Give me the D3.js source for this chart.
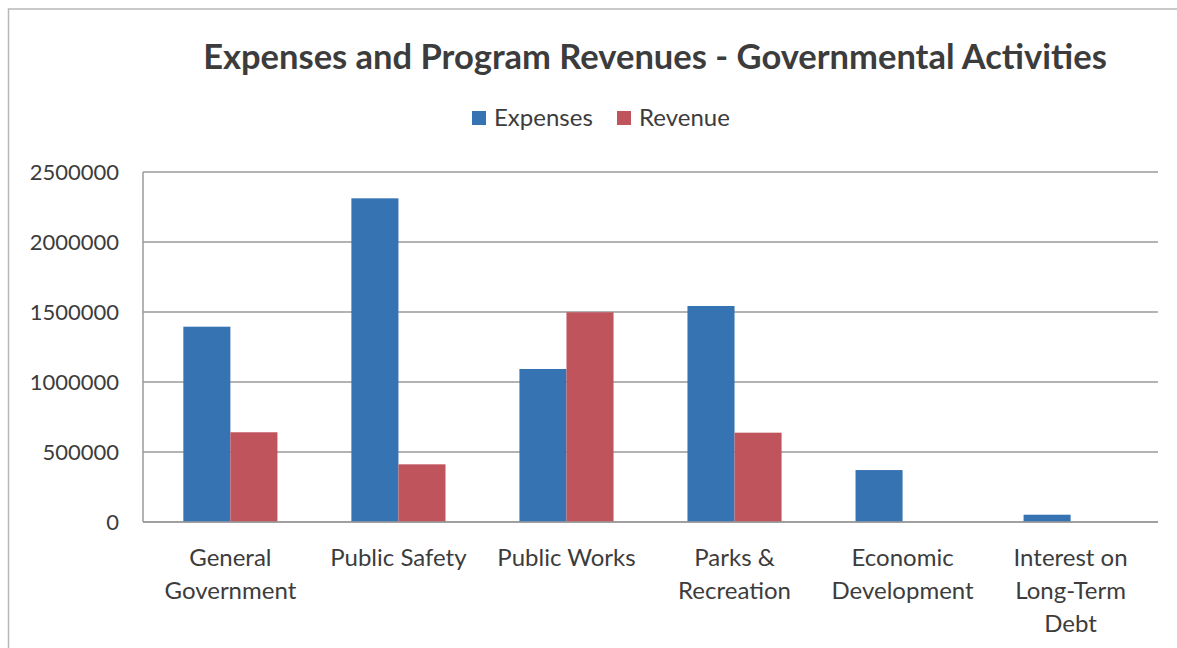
<!DOCTYPE html>
<html>
<head>
<meta charset="utf-8">
<script src="https://cdn.jsdelivr.net/npm/d3@7.9.0/dist/d3.min.js"></script>
<style>
  html, body { margin: 0; padding: 0; background: #fff; }
  svg text { font-family: Lato, "Open Sans", sans-serif; fill: #3c3c3c; }
</style>
</head>
<body>
<svg id="chart" width="1177" height="648"></svg>
<script>
// chart data
const categories = [
  ['General', 'Government'],
  ['Public Safety'],
  ['Public Works'],
  ['Parks &', 'Recreation'],
  ['Economic', 'Development'],
  ['Interest on', 'Long-Term', 'Debt']
];
const expenses = [1395000, 2312000, 1093000, 1543000, 371000, 52000];
const revenue = [641000, 412000, 1498000, 638000, 0, 0];
const seriesNames = ['Expenses', 'Revenue'];
const yTicks = [0, 500000, 1000000, 1500000, 2000000, 2500000];

const colors = ['#3673b3', '#c0545c'];

const svg = d3.select('#chart');
const plot = { left: 143, right: 1158, top: 172, bottom: 522 };

// outer frame (right and bottom edges fall outside the picture)
svg.append('rect')
  .attr('x', 8.5).attr('y', 9)
  .attr('width', 1190).attr('height', 660)
  .attr('fill', 'none')
  .attr('stroke', '#b8b8b8')
  .attr('stroke-width', 1.5);

const x = d3.scaleBand()
  .domain(d3.range(categories.length))
  .range([plot.left, plot.right])
  .paddingInner(0.44)
  .paddingOuter(0.24);

const xSeries = d3.scaleBand()
  .domain(d3.range(seriesNames.length))
  .range([0, x.bandwidth()]);

const y = d3.scaleLinear()
  .domain([0, 2500000])
  .range([plot.bottom, plot.top]);

// gridlines
svg.append('g')
  .selectAll('line')
  .data(yTicks)
  .join('line')
  .attr('x1', plot.left)
  .attr('x2', plot.right)
  .attr('y1', (d) => y(d))
  .attr('y2', (d) => y(d))
  .attr('stroke', '#9a9a9a')
  .attr('stroke-width', 1.5);

// value axis line
svg.append('line')
  .attr('x1', plot.left).attr('x2', plot.left)
  .attr('y1', plot.top).attr('y2', plot.bottom)
  .attr('stroke', '#9a9a9a')
  .attr('stroke-width', 1.5);

// y tick labels
svg.append('g')
  .selectAll('text')
  .data(yTicks)
  .join('text')
  .attr('x', 119)
  .attr('y', (d) => y(d))
  .attr('dy', '0.35em')
  .attr('text-anchor', 'end')
  .style('font-size', '22px')
  .text((d) => d);

// bars
const series = [expenses, revenue];
series.forEach((values, s) => {
  svg.append('g')
    .selectAll('rect')
    .data(values)
    .join('rect')
    .attr('x', (d, i) => x(i) + xSeries(s))
    .attr('y', (d) => y(d))
    .attr('width', xSeries.bandwidth())
    .attr('height', (d) => y(0) - y(d))
    .attr('fill', colors[s]);
});

// redraw baseline on top of bars
svg.append('line')
  .attr('x1', plot.left).attr('x2', plot.right)
  .attr('y1', y(0)).attr('y2', y(0))
  .attr('stroke', '#9a9a9a')
  .attr('stroke-width', 1.5);

// category labels
const catLabels = svg.append('g')
  .selectAll('text')
  .data(categories)
  .join('text')
  .attr('text-anchor', 'middle')
  .attr('y', 558)
  .style('font-size', '24px');

catLabels.selectAll('tspan')
  .data((d, i) => d.map((line, j) => ({ line, j, i })))
  .join('tspan')
  .attr('x', (d) => x(d.i) + x.bandwidth() / 2)
  .attr('dy', (d) => (d.j === 0 ? '0.35em' : '33px'))
  .text((d) => d.line);

// title
svg.append('text')
  .attr('x', 655)
  .attr('y', 57)
  .attr('dy', '0.35em')
  .attr('text-anchor', 'middle')
  .style('font-size', '34.5px')
  .style('font-weight', 'bold')
  .text('Expenses and Program Revenues - Governmental Activities');

// legend
const legendX = [472, 617];
const legend = svg.append('g')
  .selectAll('g')
  .data(seriesNames)
  .join('g')
  .attr('transform', (d, i) => `translate(${legendX[i]},118)`);

legend.append('rect')
  .attr('x', 0).attr('y', -7)
  .attr('width', 14).attr('height', 14)
  .attr('fill', (d, i) => colors[i]);

legend.append('text')
  .attr('x', 22)
  .attr('dy', '0.35em')
  .style('font-size', '24px')
  .text((d) => d);
</script>
</body>
</html>
